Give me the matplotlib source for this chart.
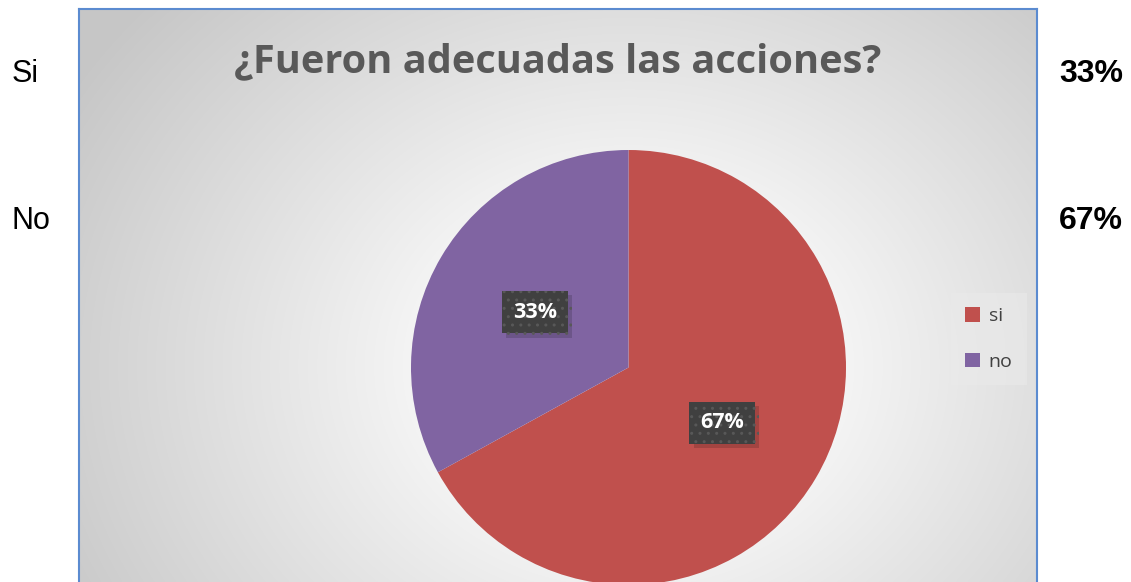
import matplotlib.pyplot as plt
import matplotlib.patheffects as pe
import numpy as np

# Data
title = "¿Fueron adecuadas las acciones?"
categories = ["si", "no"]
values = [67, 33]
side_labels = ["Si", "No"]
side_values = ["33%", "67%"]
colors = ["#C0504D", "#8064A2"]

plt.rcParams["hatch.color"] = "#585858"
plt.rcParams["hatch.linewidth"] = 1.0

W, H = 1131, 582
fig = plt.figure(figsize=(W / 100, H / 100), dpi=100)
fig.patch.set_facecolor("white")


def px_axes(x0, y0, x1, y1):
    """Axes from pixel box (top-left origin)."""
    return fig.add_axes([x0 / W, 1 - y1 / H, (x1 - x0) / W, (y1 - y0) / H])


# Chart area with radial gradient
box = (79, 9, 1037, 600)
bg = px_axes(*box)
bw, bh = box[2] - box[0], box[3] - box[1]
xx, yy = np.meshgrid(np.arange(bw), np.arange(bh))
cx, cy = 628 - box[0], 366 - box[1]
r = np.sqrt(((xx - cx) / 560.0) ** 2 + ((yy - cy) / 470.0) ** 2)
shade = 1 - 0.22 * np.clip((r - 0.2) / 0.95, 0, 1)
bg.imshow(np.dstack([shade] * 3), extent=(0, bw, bh, 0), aspect="auto")
bg.set_xticks([])
bg.set_yticks([])
for s in bg.spines.values():
    s.set_color("#5B8BD0")
    s.set_linewidth(1.5)

fig.text(558 / W, 1 - 62 / H, title, ha="center", va="center",
         fontsize=28.6, fontweight="bold", color="#595959", family="Open Sans")

# Pie
ax = px_axes(411, 150, 846, 585)
wedges, texts, autotexts = ax.pie(values, colors=colors, startangle=90,
                                  counterclock=False, autopct="%1.0f%%",
                                  pctdistance=0.5, radius=1,
                                  wedgeprops=dict(linewidth=0))
ax.set_xlim(-1, 1)
ax.set_ylim(-1, 1)
ax.set_aspect("auto")
ax.axis("off")
for t in autotexts:
    t.set_color("white")
    t.set_fontweight("bold")
    t.set_fontsize(15.5)
    t.set_family("Open Sans")
    t.set_bbox(dict(boxstyle="square,pad=0.5", facecolor="#404040",
                    edgecolor="#585858", linewidth=0, hatch=".."))
    t.get_bbox_patch().set_path_effects(
        [pe.withSimplePatchShadow(offset=(3, -3), shadow_rgbFace="black",
                                  alpha=0.15), pe.Normal()])

leg = fig.legend(wedges, categories, loc="center",
                 bbox_to_anchor=(989 / W, 1 - 339 / H),
                 frameon=True, fancybox=False, handlelength=0.75,
                 handleheight=0.75, labelspacing=1.4, borderpad=0.75,
                 borderaxespad=0, handletextpad=0.45,
                 prop={"family": "Open Sans", "size": 14})
leg.get_frame().set_facecolor("#EAEAEA")
leg.get_frame().set_alpha(0.6)
leg.get_frame().set_edgecolor("none")
for t in leg.get_texts():
    t.set_color("#404040")

# Side labels outside the chart box
for lab, val, y in zip(side_labels, side_values, [74, 221]):
    fig.text(12 / W, 1 - y / H, lab, ha="left", va="center", fontsize=22,
             family="Liberation Sans", color="black")
    fig.text(1059 / W, 1 - y / H, val, ha="left", va="center", fontsize=23,
             family="Liberation Sans", fontweight="bold", color="black")

fig.savefig("out.png", dpi=100)
